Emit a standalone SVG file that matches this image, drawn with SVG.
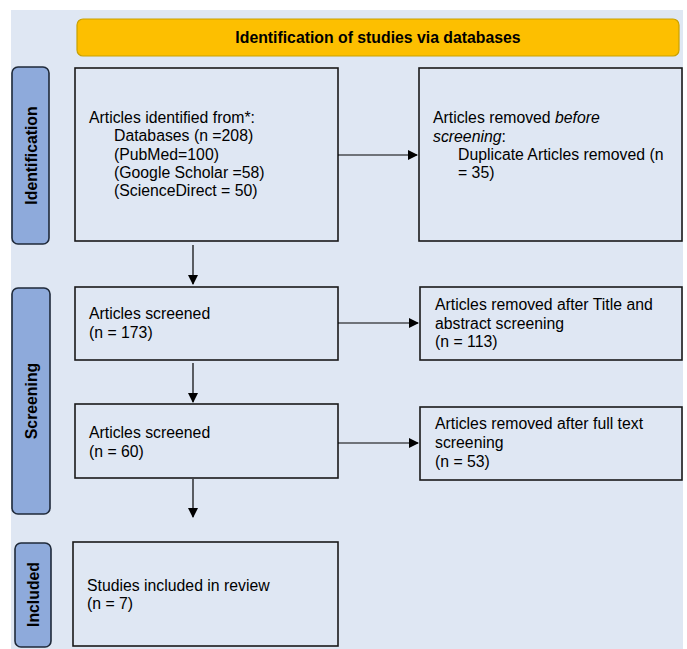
<svg xmlns="http://www.w3.org/2000/svg" width="687" height="649" viewBox="0 0 687 649">
<defs>
<style>
.t{font-family:"Liberation Sans",Arial,sans-serif;font-size:15.8px;fill:#000}
.b{font-family:"Liberation Sans",Arial,sans-serif;font-size:15.8px;font-weight:bold;fill:#000}
.box{fill:#dfe7f3;stroke:#1a1a1a;stroke-width:1.6}
.side{fill:#8eaadb;stroke:#1f2a3a;stroke-width:1.6}
.c{stroke:#000;stroke-width:1.2;fill:none;marker-end:url(#ah)}
</style>
<marker id="ah" viewBox="0 0 10 10" refX="9" refY="5" markerWidth="10" markerHeight="10" markerUnits="userSpaceOnUse" orient="auto">
<path d="M0,0 L10,5 L0,10 z" fill="#000"/>
</marker>
</defs>
<rect x="0" y="0" width="687" height="649" fill="#ffffff"/>
<rect x="11" y="10" width="672" height="639" fill="#dfe7f3"/>
<g id="banner">
<rect x="77" y="19" width="602" height="37" rx="6" fill="#fdbf00" stroke="#c9a100" stroke-width="1.2"/>
<text class="b" x="378" y="43" text-anchor="middle">Identification of studies via databases</text>
</g>
<g id="label-identification">
<rect class="side" x="12" y="67" width="37" height="177" rx="6"/>
<text class="b" transform="translate(37,155.5) rotate(-90)" text-anchor="middle">Identification</text>
</g>
<g id="label-screening">
<rect class="side" x="12" y="288" width="38" height="226" rx="6"/>
<text class="b" transform="translate(37,401) rotate(-90)" text-anchor="middle">Screening</text>
</g>
<g id="label-included">
<rect class="side" x="15" y="543" width="36" height="104" rx="6"/>
<text class="b" transform="translate(39,594.5) rotate(-90)" text-anchor="middle">Included</text>
</g>
<g id="identified">
<rect class="box" x="75" y="68" width="263" height="173"/>
<text class="t" x="89" y="123">Articles identified from*:</text>
<text class="t" x="114" y="141">Databases (n =208)</text>
<text class="t" x="114" y="160">(PubMed=100)</text>
<text class="t" x="114" y="178">(Google Scholar =58)</text>
<text class="t" x="114" y="196">(ScienceDirect = 50)</text>
</g>
<g id="removed-before">
<rect class="box" x="419" y="68" width="263" height="173"/>
<text class="t" x="433" y="123">Articles removed <tspan font-style="italic">before</tspan></text>
<text class="t" x="433" y="142"><tspan font-style="italic">screening</tspan>:</text>
<text class="t" x="458" y="160">Duplicate Articles removed (n</text>
<text class="t" x="458" y="178">= 35)</text>
</g>
<g id="screened-173">
<rect class="box" x="75" y="287" width="263" height="73"/>
<text class="t" x="89" y="319">Articles screened</text>
<text class="t" x="89" y="338">(n = 173)</text>
</g>
<g id="removed-title">
<rect class="box" x="420" y="287" width="262" height="73"/>
<text class="t" x="435" y="310">Articles removed after Title and</text>
<text class="t" x="435" y="329">abstract screening</text>
<text class="t" x="435" y="347">(n = 113)</text>
</g>
<g id="screened-60">
<rect class="box" x="75" y="404" width="263" height="74"/>
<text class="t" x="89" y="438">Articles screened</text>
<text class="t" x="89" y="457">(n = 60)</text>
</g>
<g id="removed-full">
<rect class="box" x="420" y="407" width="262" height="73"/>
<text class="t" x="435" y="429">Articles removed after full text</text>
<text class="t" x="435" y="448">screening</text>
<text class="t" x="435" y="467">(n = 53)</text>
</g>
<g id="included">
<rect class="box" x="73" y="542" width="265" height="104"/>
<text class="t" x="87" y="591">Studies included in review</text>
<text class="t" x="87" y="609">(n = 7)</text>
</g>
<g id="connectors">
<line class="c" x1="338" y1="155" x2="417" y2="155"/>
<line class="c" x1="193" y1="245" x2="193" y2="284"/>
<line class="c" x1="338" y1="323" x2="418" y2="323"/>
<line class="c" x1="193" y1="363" x2="193" y2="402"/>
<line class="c" x1="338" y1="443" x2="418" y2="443"/>
<line class="c" x1="193" y1="479" x2="193" y2="517"/>
</g>
</svg>
